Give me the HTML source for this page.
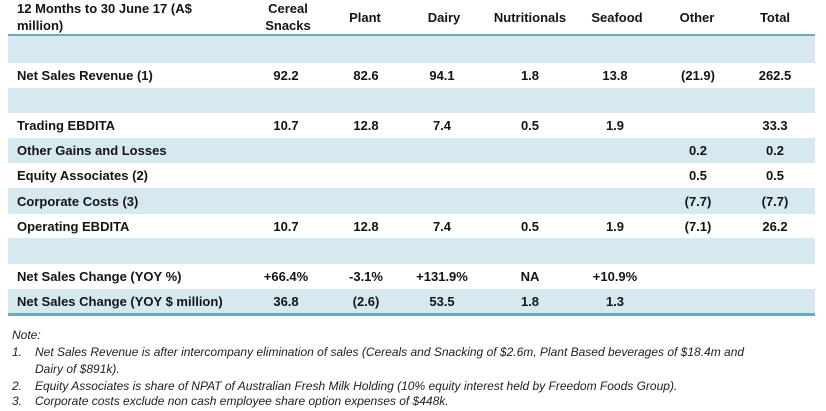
<!DOCTYPE html>
<html>
<head>
<meta charset="utf-8">
<style>
  html, body { margin:0; padding:0; background:#fff; }
  body { width:826px; height:411px; position:relative; overflow:hidden;
         font-family:"Liberation Sans", Arial, sans-serif; color:#141414; }
  .band { position:absolute; left:8px; width:807px; background:#D6E9F1; }
  .rule { position:absolute; left:8px; width:807px; background:#6AAAC0; }
  .row { position:absolute; left:0; width:826px; height:25px; line-height:25px;
         font-weight:bold; font-size:13px; }
  .lbl { position:absolute; left:17px; white-space:nowrap; }
  .c { position:absolute; width:90px; text-align:center; white-space:nowrap; }
  .h { position:absolute; font-weight:bold; font-size:13px; text-align:center; white-space:nowrap; line-height:17px; }
  .note { position:absolute; font-style:italic; font-size:12px; color:#1e1e1e; white-space:nowrap; line-height:14px; }
</style>
</head>
<body>
  <!-- header -->
  <div class="h" style="left:17px; top:0px; text-align:left;">12 Months to 30 June 17 (A$<br>million)</div>
  <div class="h" style="left:243px; width:90px; top:0px;">Cereal<br>Snacks</div>
  <div class="h" style="left:320px; width:90px; top:9px;">Plant</div>
  <div class="h" style="left:399px; width:90px; top:9px;">Dairy</div>
  <div class="h" style="left:485px; width:90px; top:9px;">Nutritionals</div>
  <div class="h" style="left:572px; width:90px; top:9px;">Seafood</div>
  <div class="h" style="left:652px; width:90px; top:9px;">Other</div>
  <div class="h" style="left:730px; width:90px; top:9px;">Total</div>

  <div class="rule" style="top:34px; height:2px;"></div>

  <!-- bands -->
  <div class="band" style="top:36px; height:27px;"></div>
  <div class="band" style="top:88px; height:25px;"></div>
  <div class="band" style="top:138px; height:25px;"></div>
  <div class="band" style="top:188px; height:26px;"></div>
  <div class="band" style="top:238px; height:26px;"></div>
  <div class="band" style="top:289px; height:24px;"></div>

  <div class="rule" style="top:313px; height:3px;"></div>

  <!-- rows -->
  <div class="row" style="top:63px;">
    <span class="lbl">Net Sales Revenue (1)</span>
    <span class="c" style="left:241px;">92.2</span>
    <span class="c" style="left:321px;">82.6</span>
    <span class="c" style="left:397px;">94.1</span>
    <span class="c" style="left:485px;">1.8</span>
    <span class="c" style="left:570px;">13.8</span>
    <span class="c" style="left:653px;">(21.9)</span>
    <span class="c" style="left:730px;">262.5</span>
  </div>
  <div class="row" style="top:113px;">
    <span class="lbl">Trading EBDITA</span>
    <span class="c" style="left:241px;">10.7</span>
    <span class="c" style="left:321px;">12.8</span>
    <span class="c" style="left:397px;">7.4</span>
    <span class="c" style="left:485px;">0.5</span>
    <span class="c" style="left:570px;">1.9</span>
    <span class="c" style="left:730px;">33.3</span>
  </div>
  <div class="row" style="top:138px;">
    <span class="lbl">Other Gains and Losses</span>
    <span class="c" style="left:653px;">0.2</span>
    <span class="c" style="left:730px;">0.2</span>
  </div>
  <div class="row" style="top:163px;">
    <span class="lbl">Equity Associates (2)</span>
    <span class="c" style="left:653px;">0.5</span>
    <span class="c" style="left:730px;">0.5</span>
  </div>
  <div class="row" style="top:189px;">
    <span class="lbl">Corporate Costs (3)</span>
    <span class="c" style="left:653px;">(7.7)</span>
    <span class="c" style="left:730px;">(7.7)</span>
  </div>
  <div class="row" style="top:214px;">
    <span class="lbl">Operating EBDITA</span>
    <span class="c" style="left:241px;">10.7</span>
    <span class="c" style="left:321px;">12.8</span>
    <span class="c" style="left:397px;">7.4</span>
    <span class="c" style="left:485px;">0.5</span>
    <span class="c" style="left:570px;">1.9</span>
    <span class="c" style="left:653px;">(7.1)</span>
    <span class="c" style="left:730px;">26.2</span>
  </div>
  <div class="row" style="top:264px;">
    <span class="lbl">Net Sales Change (YOY %)</span>
    <span class="c" style="left:241px;">+66.4%</span>
    <span class="c" style="left:321px;">-3.1%</span>
    <span class="c" style="left:397px;">+131.9%</span>
    <span class="c" style="left:485px;">NA</span>
    <span class="c" style="left:570px;">+10.9%</span>
  </div>
  <div class="row" style="top:289px;">
    <span class="lbl">Net Sales Change (YOY $ million)</span>
    <span class="c" style="left:241px;">36.8</span>
    <span class="c" style="left:321px;">(2.6)</span>
    <span class="c" style="left:397px;">53.5</span>
    <span class="c" style="left:485px;">1.8</span>
    <span class="c" style="left:570px;">1.3</span>
  </div>

  <!-- notes -->
  <div class="note" style="left:12px; top:328px;">Note:</div>
  <div class="note" style="left:12px; top:345px;">1.</div>
  <div class="note" style="left:35px; top:345px;">Net Sales Revenue is after intercompany elimination of sales (Cereals and Snacking of $2.6m, Plant Based beverages of $18.4m and</div>
  <div class="note" style="left:35px; top:362px;">Dairy of $891k).</div>
  <div class="note" style="left:12px; top:379px;">2.</div>
  <div class="note" style="left:35px; top:379px;">Equity Associates is share of NPAT of Australian Fresh Milk Holding (10% equity interest held by Freedom Foods Group).</div>
  <div class="note" style="left:12px; top:394px;">3.</div>
  <div class="note" style="left:35px; top:394px;">Corporate costs exclude non cash employee share option expenses of $448k.</div>
</body>
</html>
